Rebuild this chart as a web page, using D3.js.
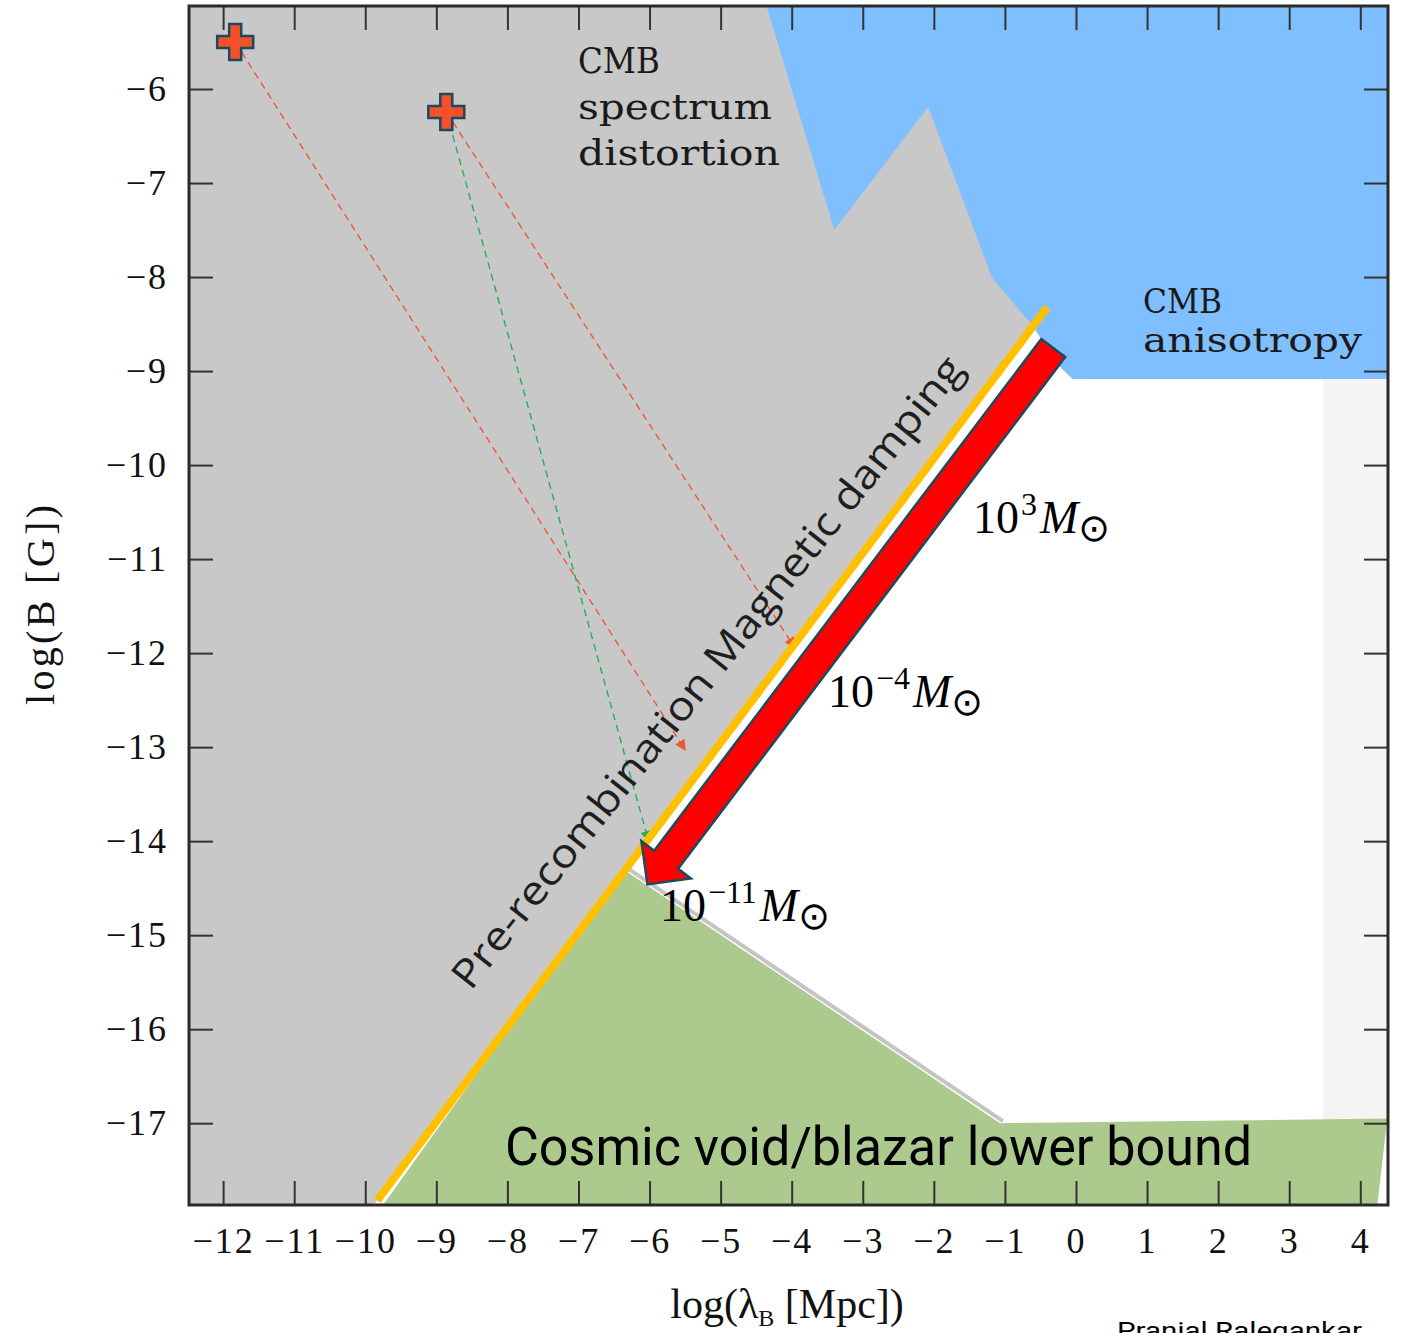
<!DOCTYPE html>
<html><head><meta charset="utf-8">
<script src="https://cdn.jsdelivr.net/npm/d3@7"></script>
<style>body{margin:0;background:#fff;overflow:hidden}</style>
</head><body>
<svg id="chart" width="1411" height="1333"></svg>
<script>
// ---------------- data (log10 units) ----------------
const xTickValues = [-12,-11,-10,-9,-8,-7,-6,-5,-4,-3,-2,-1,0,1,2,3,4];
const yTickValues = [-6,-7,-8,-9,-10,-11,-12,-13,-14,-15,-16,-17];
const xDomain = [-12.48, 4.39];
const yDomain = [-5.117, -17.87];

const cmbAnisotropyRegion = [[-4.356,-5.117],[-3.40,-7.50],[-2.08,-6.19],[-1.18,-8.01],[-0.62,-8.51],[-0.22,-8.96],[-0.05,-9.085],[4.39,-9.085],[4.39,-5.117]];
const allowedRegion = [[-0.405,-8.32],[4.39,-8.32],[4.39,-17.87],[-9.88,-17.87]];
const lightStripRegion = [[3.48,-9.085],[4.39,-9.085],[4.39,-17.0],[3.48,-17.0]];
const voidBlazarRegion = [[-6.37,-14.30],[-1.07,-17.00],[4.38,-16.95],[4.24,-17.87],[-9.75,-17.87]];
const dampingLine = [[-9.83,-17.82],[-0.405,-8.32]];
const massArrow = [[-0.32,-8.755],[-6.03,-14.46]];
const sources = [[-11.83,-5.50],[-8.86,-6.245]];
const trackSource = [0, 1, 1];
const trackEnd = [[-5.49,-13.04],[-3.95,-11.95],[-6.01,-14.01]];
const trackColor = ["#f0553a","#f0553a","#1fb155"];
const massExp = ["3","\u22124","\u221211"];
const massLabelPos = [[-1.449,-10.722],[-3.49,-12.573],[-5.853,-14.849]];
const cmbSpectrumLabel = ["CMB","spectrum","distortion"];
const cmbAnisoLabel = ["CMB","anisotropy"];

// ---------------- chart ----------------
const svg = d3.select('#chart');
const x = d3.scaleLinear().domain(xDomain).range([189,1388]);
const y = d3.scaleLinear().domain(yDomain).range([6,1205]);
const line = d3.line().x(d=>x(d[0])).y(d=>y(d[1]));
const poly = pts => line(pts) + 'Z';

const defs = svg.append('defs');
defs.append('clipPath').attr('id','plotclip').append('rect')
  .attr('x',x(xDomain[0])).attr('y',y(yDomain[0]))
  .attr('width',x(xDomain[1])-x(xDomain[0])).attr('height',y(yDomain[1])-y(yDomain[0]));
trackColor.forEach((c,i)=>{
  defs.append('marker').attr('id','ah'+i).attr('viewBox','0 0 10 10')
    .attr('refX',10).attr('refY',5).attr('markerWidth',13).attr('markerHeight',11)
    .attr('markerUnits','userSpaceOnUse').attr('orient','auto')
    .append('path').attr('d','M0,0L10,5L0,10Z').attr('fill',c);
});

const plot = svg.append('g').attr('clip-path','url(#plotclip)');
plot.append('rect').attr('x',x(xDomain[0])).attr('y',y(yDomain[0]))
  .attr('width',x(xDomain[1])-x(xDomain[0])).attr('height',y(yDomain[1])-y(yDomain[0]))
  .attr('fill','#c8c8c8');
plot.append('path').attr('d',poly(allowedRegion)).attr('fill','#ffffff');
plot.append('path').attr('d',poly(cmbAnisotropyRegion)).attr('fill','#80bfff');
plot.append('path').attr('d',poly(lightStripRegion)).attr('fill','#f4f4f4');
// faint shadow along the void/blazar diagonal edge
plot.append('path').attr('d',line(voidBlazarRegion.slice(0,2)))
  .attr('transform','translate(3,-2)').attr('fill','none').attr('stroke','#c4c4c4').attr('stroke-width',4);
plot.append('path').attr('d',poly(voidBlazarRegion)).attr('fill','#acca8e');

// region labels
const spec = svg.append('text').attr('font-family','DejaVu Serif').attr('font-size',36).attr('fill','#1a1a1a');
const specLens = [82,194,202];
cmbSpectrumLabel.forEach((t,i)=>{
  spec.append('tspan').attr('x',578).attr('y',73+i*46).attr('textLength',specLens[i]).attr('lengthAdjust','spacingAndGlyphs').text(t);
});
const aniso = svg.append('text').attr('font-family','DejaVu Serif').attr('font-size',34).attr('fill','#1a1a1a');
const anisoLens = [79,219];
cmbAnisoLabel.forEach((t,i)=>{
  aniso.append('tspan').attr('x',1143).attr('y',313+i*39).attr('textLength',anisoLens[i]).attr('lengthAdjust','spacingAndGlyphs').text(t);
});

// dashed tracks
trackEnd.forEach((e,i)=>{
  const s = sources[trackSource[i]];
  plot.append('line').attr('x1',x(s[0])).attr('y1',y(s[1])).attr('x2',x(e[0])).attr('y2',y(e[1]))
    .attr('stroke',trackColor[i]).attr('stroke-width',1.4).attr('stroke-dasharray','7,5')
    .attr('marker-end','url(#ah'+i+')');
});

// damping line
plot.append('path').attr('d',line(dampingLine)).attr('stroke','#ffc000').attr('stroke-width',8).attr('fill','none');

// red mass arrow
(function(){
  const p0=[x(massArrow[0][0]),y(massArrow[0][1])], p1=[x(massArrow[1][0]),y(massArrow[1][1])];
  const dx=p1[0]-p0[0], dy=p1[1]-p0[1], L=Math.hypot(dx,dy);
  const ux=dx/L, uy=dy/L, nx=-uy, ny=ux;
  const sw=15, hw=31, hl=31;
  const bx=p1[0]-ux*hl, by=p1[1]-uy*hl;
  const pts=[[p0[0]+nx*sw,p0[1]+ny*sw],[bx+nx*sw,by+ny*sw],[bx+nx*hw,by+ny*hw],p1,
             [bx-nx*hw,by-ny*hw],[bx-nx*sw,by-ny*sw],[p0[0]-nx*sw,p0[1]-ny*sw]];
  svg.append('path').attr('d','M'+pts.map(p=>p.join(',')).join('L')+'Z')
    .attr('fill','#ff0000').attr('stroke','#1d4a5c').attr('stroke-width',2.5).attr('stroke-linejoin','miter');
})();

// sources
svg.selectAll('path.src').data(sources).join('path').attr('class','src')
  .attr('d',d3.symbol(d3.symbolCross,720)())
  .attr('transform',d=>`translate(${x(d[0])},${y(d[1])})`)
  .attr('fill','#f4502a').attr('stroke','#1b4a5f').attr('stroke-width',2.5);

// rotated label
svg.append('text').attr('transform',`translate(${x(-5.19)},${y(-12.2)}) rotate(-51.5)`)
  .attr('text-anchor','middle').attr('dy','0.35em')
  .attr('font-family','Open Sans, Lato, sans-serif').attr('font-weight',400).attr('font-size',40)
  .attr('fill','#1e1e1e').attr('textLength',795).attr('lengthAdjust','spacingAndGlyphs')
  .text('Pre-recombination Magnetic damping');

// mass labels
massExp.forEach((e,i)=>{
  const t = svg.append('text').attr('x',x(massLabelPos[i][0])).attr('y',y(massLabelPos[i][1]))
    .attr('font-family','Liberation Serif, serif').attr('fill','#000');
  t.append('tspan').attr('font-size',46).text('10');
  t.append('tspan').attr('font-size',32).attr('dx',2).attr('dy',-18).text(e);
  t.append('tspan').attr('font-size',46).attr('font-style','italic').attr('dx',3).attr('dy',18).text('M');
  t.append('tspan').attr('font-family','DejaVu Sans').attr('font-size',38).attr('dy',8).text('\u2299');
});

// bottom label
svg.append('text').attr('x',505).attr('y',1165).attr('font-family','Roboto, sans-serif').attr('font-size',53)
  .attr('fill','#000').attr('textLength',747).attr('lengthAdjust','spacingAndGlyphs')
  .text('Cosmic void/blazar lower bound');

// axes
const fmt = d => d<0 ? '\u2212' + Math.abs(d) : String(d);
const styleAxis = g => {
  g.select('.domain').remove();
  g.selectAll('.tick line').attr('stroke','#333').attr('stroke-width',2);
  g.selectAll('.tick text').attr('font-family','Liberation Serif, serif').attr('font-size',36).attr('fill','#111');
};
svg.append('g').attr('transform',`translate(0,${y(yDomain[1])})`)
  .call(d3.axisBottom(x).tickValues(xTickValues).tickSize(-24).tickPadding(22).tickFormat(fmt)).call(styleAxis);
svg.append('g').attr('transform',`translate(0,${y(yDomain[0])})`)
  .call(d3.axisTop(x).tickValues(xTickValues).tickSize(-24).tickFormat('')).call(styleAxis);
svg.append('g').attr('transform',`translate(${x(xDomain[0])},0)`)
  .call(d3.axisLeft(y).tickValues(yTickValues).tickSize(-24).tickPadding(21).tickFormat(fmt)).call(styleAxis);
svg.append('g').attr('transform',`translate(${x(xDomain[1])},0)`)
  .call(d3.axisRight(y).tickValues(yTickValues).tickSize(-24).tickFormat('')).call(styleAxis);
svg.selectAll('.tick text').attr('font-family','Liberation Serif, serif').attr('font-size',36).attr('letter-spacing',2);

svg.append('rect').attr('x',x(xDomain[0])).attr('y',y(yDomain[0]))
  .attr('width',x(xDomain[1])-x(xDomain[0])).attr('height',y(yDomain[1])-y(yDomain[0]))
  .attr('fill','none').attr('stroke','#2a2a2a').attr('stroke-width',3);

// axis titles
const xt = svg.append('text').attr('x',787).attr('y',1318).attr('text-anchor','middle')
  .attr('font-family','Liberation Serif, serif').attr('font-size',42).attr('fill','#111');
xt.append('tspan').text('log(\u03bb');
xt.append('tspan').attr('font-size',24).attr('dy',8).text('B');
xt.append('tspan').attr('dy',-8).text(' [Mpc])');
svg.append('text').attr('transform','translate(54,605) rotate(-90)').attr('text-anchor','middle')
  .attr('font-family','Liberation Serif, serif').attr('font-size',40).attr('fill','#111')
  .attr('textLength',200).attr('lengthAdjust','spacing').text('log(B [G])');

svg.append('text').attr('x',1117).attr('y',1339).attr('font-family','Roboto, sans-serif').attr('font-size',24)
  .attr('fill','#000').attr('textLength',245).attr('lengthAdjust','spacingAndGlyphs').text('Pranjal Ralegankar');
</script>
</body></html>
